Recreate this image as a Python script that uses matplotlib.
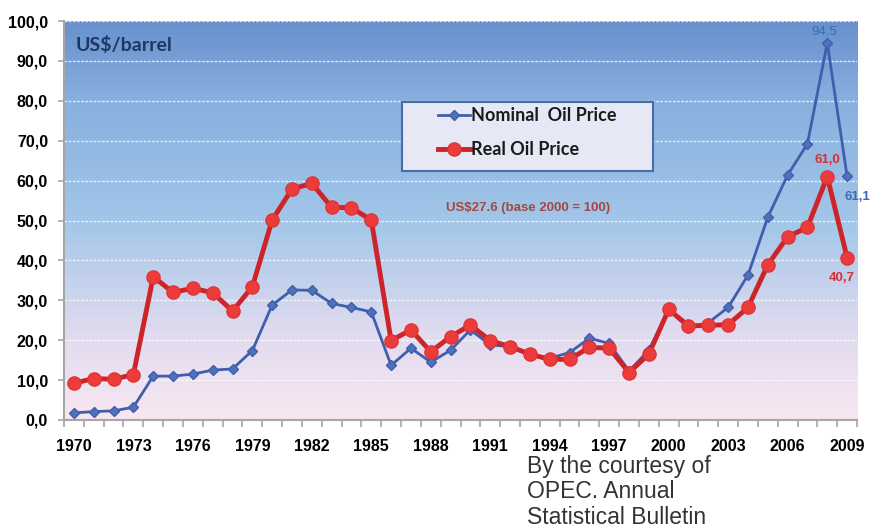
import numpy as np
import matplotlib
matplotlib.use('Agg')
import matplotlib.pyplot as plt
from matplotlib.colors import LinearSegmentedColormap
from matplotlib.patches import Rectangle

# oil price data, US$/barrel
years = list(range(1970, 2010))
nominal = [1.8, 2.1, 2.3, 3.2, 11.0, 11.0, 11.5, 12.5, 12.8, 17.4,
           28.8, 32.6, 32.5, 29.2, 28.2, 27.1, 13.7, 18.0, 14.5, 17.5,
           22.6, 18.8, 18.4, 16.3, 15.5, 16.9, 20.5, 19.2, 12.3, 17.5,
           27.6, 23.1, 24.4, 28.2, 36.3, 50.8, 61.4, 69.2, 94.5, 61.1]
real = [9.2, 10.4, 10.2, 11.4, 35.9, 32.0, 33.0, 31.9, 27.3, 33.4,
        50.1, 57.9, 59.3, 53.3, 53.2, 50.1, 19.9, 22.6, 17.1, 20.9,
        23.8, 19.9, 18.4, 16.5, 15.2, 15.2, 18.2, 18.0, 11.9, 16.5,
        27.7, 23.6, 23.7, 23.9, 28.2, 38.9, 45.9, 48.3, 61.0, 40.7]
label_years = years[::3]

narrow = ['Liberation Sans', 'DejaVu Sans']
calib = ['Lato', 'DejaVu Sans']

fig = plt.figure(figsize=(8.72, 5.30), dpi=100)
ax = fig.add_axes([64/872, 1-420/530, 793/872, 399/530])

x = np.arange(len(years))
ax.set_xlim(-0.5, len(years) - 0.5)
ax.set_ylim(0, 100)

# gradient background (blue on top, pink at the bottom)
cmap = LinearSegmentedColormap.from_list('bg', [(0.0, '#f8e7f1'), (0.22, '#e0dbef'),
                                                (0.5, '#a2c6e9'), (0.8, '#88b0df'),
                                                (1.0, '#6890cc')])
grad = np.linspace(0, 1, 256).reshape(-1, 1)
ax.imshow(grad, cmap=cmap, aspect='auto', origin='lower',
          extent=[-0.5, len(years) - 0.5, 0, 100], zorder=0)

for v in range(10, 101, 10):
    ax.axhline(v, color='white', lw=1, ls=(0, (2, 1)), alpha=0.75, zorder=1)

ax.plot(x, nominal, color='#3f5eae', lw=2, marker='D', ms=5,
        mfc='#5070b8', mec='#3f5eae', zorder=3, label='Nominal  Oil Price')
ax.plot(x, real, color='#cc2428', lw=3.5, marker='o', ms=9.5,
        mfc='#ec3b3b', mec='#e03535', zorder=4, label='Real Oil Price')

# value labels at the end
i08 = years.index(2008)
i09 = years.index(2009)
ax.annotate('94,5', (i08, nominal[i08]), xytext=(-3, 11), textcoords='offset pixels',
            ha='center', va='center', color='#3a6db3', fontsize=9.5, family=narrow)
ax.annotate('61,0', (i08, real[i08]), xytext=(0, 17), textcoords='offset pixels',
            ha='center', va='center', color='#d63034', fontsize=9.5, fontweight='bold', family=narrow)
ax.annotate('61,1', (i09, nominal[i09]), xytext=(10, -21), textcoords='offset pixels',
            ha='center', va='center', color='#3a6db3', fontsize=9.5, fontweight='bold', family=narrow)
ax.annotate('40,7', (i09, real[i09]), xytext=(-5, -20), textcoords='offset pixels',
            ha='center', va='center', color='#d63034', fontsize=9.5, fontweight='bold', family=narrow)

ax.text(12/793, 1-24/399, 'US$/barrel', transform=ax.transAxes, ha='left', va='center',
        color='#1d3766', fontsize=14, fontweight='bold', family=calib)
ax.text((528-64)/793, (420-208)/399, 'US$27.6 (base 2000 = 100)', transform=ax.transAxes,
        ha='center', va='center', color='#a3493f', fontsize=9.5, fontweight='bold', family=narrow)

# legend box
ax.add_patch(Rectangle(((402-64)/793, (420-171)/399), 251/793, 69/399, transform=ax.transAxes,
                       facecolor='#e6e9f5', edgecolor='#4a6aa8', lw=1.5, zorder=5))
leg = ax.legend(loc='upper left', bbox_to_anchor=((438-64)/793, (420-107)/399),
                frameon=False, borderpad=0, borderaxespad=0, handlelength=1.75,
                handletextpad=0.1, labelspacing=0.95,
                prop={'family': calib, 'weight': 'bold', 'size': 13})
leg.set_zorder(6)
for t in leg.get_texts():
    t.set_color('#1a1a1a')

# axes styling
for s in ['top', 'right']:
    ax.spines[s].set_visible(False)
for s in ['left', 'bottom']:
    ax.spines[s].set_color('#a6a6a6')
    ax.spines[s].set_linewidth(1.5)

ax.set_yticks(range(0, 101, 10))
ax.set_yticklabels([('%.1f' % v).replace('.', ',') for v in range(0, 101, 10)])
ax.tick_params(axis='y', length=4.5, color='#a6a6a6', width=1.2, pad=7)
ax.set_xticks([years.index(y) for y in label_years])
ax.set_xticklabels([str(y) for y in label_years])
ax.set_xticks(np.arange(-0.5, len(years)), minor=True)
ax.tick_params(axis='x', which='major', length=0, pad=14)
ax.tick_params(axis='x', which='minor', length=5, color='#a6a6a6', width=1.2)
for lab in ax.get_xticklabels() + ax.get_yticklabels():
    lab.set_family(narrow)
    lab.set_fontweight('bold')
    lab.set_fontsize(11.5)
    lab.set_color('black')

fig.text(527/872, 1-455/530, 'By the courtesy of\nOPEC. Annual\nStatistical Bulletin',
         ha='left', va='top', fontsize=16.5, color='#333333', linespacing=1.13,
         family=['Liberation Sans', 'DejaVu Sans'])

fig.savefig('out.png', dpi=100)
